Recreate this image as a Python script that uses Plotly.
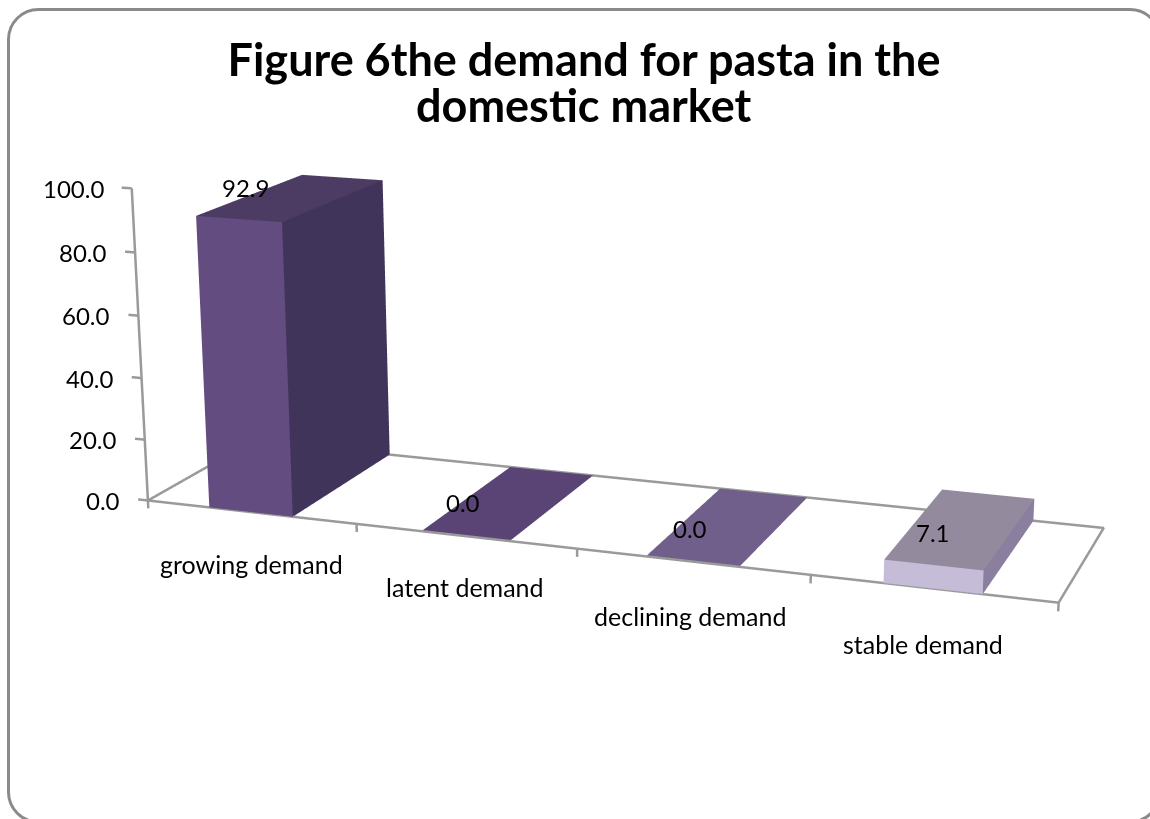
import numpy as np
import plotly.graph_objects as go

# Chart content
categories = ["growing demand", "latent demand", "declining demand", "stable demand"]
values = [92.9, 0.0, 0.0, 7.1]
z_ticks = [0, 20, 40, 60, 80, 100]
title_lines = ["Figure 6the demand for pasta in the", "domestic market"]

# One colour per visible bar face
front_colors = ["#634C7F", "#5A4475", "#6F5F8A", "#C5BCD8"]
side_colors = ["#41345A", "#4A3A63", "#5F5078", "#8B7FA0"]
top_colors = ["#4C3B62", "#5A4475", "#6F5F8A", "#948A9E"]

W, H = 1150, 819
FONT = "Lato"
AXIS_GREY = "#9A9A9A"
BAR_START, BAR_END = 0.3, 0.7     # bar extent inside its category slot
Z_RANGE = [-50, 110]

# Homogeneous view of the chart box: (category, depth, value/100, 1) -> page pixels
VIEW = np.array([
    [198.857332, 125.305999, -19.136791, 147.534114],
    [10.083740, -25.671913, -318.228290, 498.709944],
    [-0.027144, 0.076878, -0.032286, 1.000000],
])
VIEW[:, 2] /= 100  # take the value axis in data units

# Split the view into a Plotly perspective camera (fov 45 degrees, centred on the
# page) and a floor shear, so that the scene z coordinate stays the plotted value.
focal = (H / 2) / np.tan(np.pi / 8)
intrinsics = np.array([[focal, 0, W / 2], [0, -focal, H / 2], [0, 0, 1.0]])
Q = np.linalg.inv(intrinsics) @ VIEW
q1, q2, q3, q4 = Q.T
z_dir = np.cross(q1, q2)
z_dir /= np.linalg.norm(z_dir)
if z_dir @ q3 < 0:
    z_dir = -z_dir
x_dir = np.cross([0, 1.0, 0], z_dir)
x_dir /= np.linalg.norm(x_dir)
y_dir = np.cross(x_dir, z_dir)
rotation = np.column_stack([x_dir, y_dir, z_dir])

DEPTH_SCALE = 2.0
z_mid = sum(Z_RANGE) / 2
z_aspect = (Z_RANGE[1] - Z_RANGE[0]) * DEPTH_SCALE * (z_dir @ q3)
eye = np.array([0, 0, -DEPTH_SCALE * (z_dir @ q4 + z_mid * (z_dir @ q3))])
center = eye + rotation[2]
up = rotation[1]


def to_scene(cat, depth, value):
    """Scene coordinates of a chart-box point; z stays the value itself."""
    cam = DEPTH_SCALE * (Q @ np.array([cat, depth, value, 1.0]))
    return float(x_dir @ cam), float(y_dir @ cam), float(value)


def polyline(points):
    xs, ys, zs = [], [], []
    for p in points:
        a = (None, None, None) if p is None else to_scene(*p)
        xs.append(a[0]); ys.append(a[1]); zs.append(a[2])
    return xs, ys, zs


traces = []

# Bars: front, side and top faces as flat-coloured triangles
for i, val in enumerate(values):
    x0, x1 = i + BAR_START, i + BAR_END
    vx, vy, vz = polyline([(x0, 0, 0), (x1, 0, 0), (x1, 1, 0), (x0, 1, 0),
                           (x0, 0, val), (x1, 0, val), (x1, 1, val), (x0, 1, val)])
    traces.append(go.Mesh3d(
        x=vx, y=vy, z=vz,
        i=[0, 0, 1, 1, 4, 4], j=[1, 5, 2, 6, 5, 6], k=[5, 4, 6, 5, 6, 7],
        facecolor=[front_colors[i]] * 2 + [side_colors[i]] * 2 + [top_colors[i]] * 2,
        flatshading=True, showscale=False, hoverinfo="skip",
        lighting=dict(ambient=1, diffuse=0, specular=0, fresnel=0),
    ))

# Floor outline, value axis and tick marks
n = len(categories)
frame = [(0, 0, 0), (n, 0, 0), (n, 1, 0), (0, 1, 0), (0, 0, 0), (0, 0, max(z_ticks)), None]
for z in z_ticks:
    frame += [(0, 0, z), (-0.048, 0, z), None]
for i in range(n + 1):
    frame += [(i, 0, 0), (i, 0, -2.6), None]
lx, ly, lz = polyline(frame)
traces.append(go.Scatter3d(x=lx, y=ly, z=lz, mode="lines", hoverinfo="skip",
                           line=dict(color=AXIS_GREY, width=5)))

fig = go.Figure(traces)

text_font = dict(family=FONT, size=24, color="black")
notes = []

# Value-axis labels, set off to the left of the slanted axis
for z in z_ticks:
    a = to_scene(0, 0, z)
    notes.append(dict(x=a[0], y=a[1], z=a[2], text=f"{z:.1f}", showarrow=False, xanchor="right",
                      xshift=-26, yshift=0, font=text_font))

# Category labels under the front edge
label_shift = [(1, -52), (0, -51), (-2, -54), (-10, -55)]
for i, c in enumerate(categories):
    a = to_scene(i + 0.5, 0, 0)
    notes.append(dict(x=a[0], y=a[1], z=a[2], text=c, showarrow=False, xanchor="center",
                      xshift=label_shift[i][0], yshift=label_shift[i][1],
                      font=dict(family=FONT, size=25, color="black")))

# Value labels beside the top face of each bar
value_shift = [(-47, 10), (-47, 0), (-39, -3), (-29, -4)]
for i, val in enumerate(values):
    a = to_scene(i + 0.5, 0.5, val)
    notes.append(dict(x=a[0], y=a[1], z=a[2], text=f"{val:.1f}", showarrow=False, xanchor="center",
                      xshift=value_shift[i][0], yshift=value_shift[i][1], font=text_font))


def rounded_frame(x0, y0, x1, y1, r):
    k = 0.5523 * r
    nx, ny = (lambda x: x / W), (lambda y: 1 - y / H)
    segs = [("M", x0, y0 + r),
            ("C", x0, y0 + r - k, x0 + r - k, y0, x0 + r, y0), ("L", x1 - r, y0),
            ("C", x1 - r + k, y0, x1, y0 + r - k, x1, y0 + r), ("L", x1, y1 - r),
            ("C", x1, y1 - r + k, x1 - r + k, y1, x1 - r, y1), ("L", x0 + r, y1),
            ("C", x0 + r - k, y1, x0, y1 - r + k, x0, y1 - r), ("Z",)]
    out = ""
    for s in segs:
        out += s[0] + " ".join(f"{nx(s[j]):.5f},{ny(s[j + 1]):.5f}" for j in range(1, len(s), 2)) + " "
    return out


hidden = dict(visible=False)
title_font = dict(family=FONT, size=45, color="black", weight="bold")
fig.update_layout(
    width=W, height=H, margin=dict(l=0, r=0, t=0, b=0), showlegend=False,
    paper_bgcolor="white",
    title=dict(text=title_lines[0], x=584 / W, xanchor="center", y=1 - 60 / H, yanchor="middle",
               yref="container", font=title_font),
    annotations=[dict(text=title_lines[1], xref="paper", yref="paper", x=583.5 / W, y=1 - 105 / H,
                      xanchor="center", yanchor="middle", showarrow=False, font=title_font)],
    shapes=[dict(type="path", xref="paper", yref="paper", path=rounded_frame(8.5, 9.5, 1160, 822, 30),
                 line=dict(color="#8A8A8A", width=3))],
    scene=dict(
        domain=dict(x=[0, 1], y=[0, 1]),
        aspectmode="manual", aspectratio=dict(x=20, y=20, z=float(z_aspect)),
        xaxis=dict(range=[-10, 10], **hidden),
        yaxis=dict(range=[-10, 10], **hidden),
        zaxis=dict(range=Z_RANGE, **hidden),
        camera=dict(projection=dict(type="perspective"),
                    eye=dict(x=float(eye[0]), y=float(eye[1]), z=float(eye[2])),
                    center=dict(x=float(center[0]), y=float(center[1]), z=float(center[2])),
                    up=dict(x=float(up[0]), y=float(up[1]), z=float(up[2]))),
        annotations=notes,
    ),
)
fig.write_html("out.html")
